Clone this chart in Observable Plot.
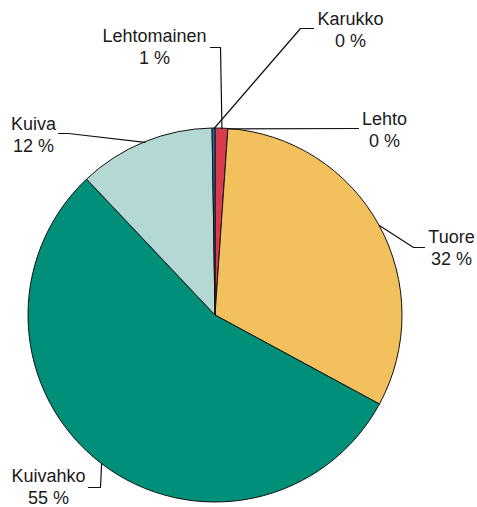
<!DOCTYPE html>
<html>
<head>
<meta charset="utf-8">
<script src="https://cdn.jsdelivr.net/npm/d3@7"></script>
<script src="https://cdn.jsdelivr.net/npm/@observablehq/plot@0.6"></script>
<style>
  html, body { margin: 0; padding: 0; background: #fff; }
  svg { display: block; }
</style>
</head>
<body>
<div id="chart"></div>
<script>
// Data
const categories = ["Lehtomainen", "Lehto", "Tuore", "Kuivahko", "Kuiva", "Karukko"];
const shares = [1.1, 0, 31.8, 55.05, 11.8, 0.25];
const colors = ["#d93a4d", "#1f6fae", "#f2c15e", "#009079", "#b4d8d4", "#1f6fae"];

// Layout (pixels)
const pieLayout = {cx: 215, cy: 315, r: 187};
const labelLayout = {
  Lehtomainen: {x: 154, y: 63, elbow: [220, 47], end: [210, 47]},
  Lehto:       {x: 384, y: 146, elbow: [300, 128], end: [358, 128]},
  Tuore:       {x: 451, y: 264, elbow: [413, 247], end: [424, 247]},
  Kuivahko:    {x: 48,  y: 503, elbow: [100, 487], end: [88, 487]},
  Kuiva:       {x: 33,  y: 151, elbow: [68, 133], end: [58, 133]},
  Karukko:     {x: 350, y: 46,  elbow: [300, 28], end: [313, 28]}
};

const data = categories.map((name, i) => ({name, value: shares[i], color: colors[i]}));
const arcs = d3.pie().sort(null).value(d => d.value).startAngle(0).endAngle(2 * Math.PI)(data);

// Leader lines from slice midpoint on the rim
const leaders = [];
arcs.forEach(a => {
  const L = labelLayout[a.data.name];
  const mid = (a.startAngle + a.endAngle) / 2;
  const ex = pieLayout.cx + pieLayout.r * Math.sin(mid);
  const ey = pieLayout.cy - pieLayout.r * Math.cos(mid);
  leaders.push({name: a.data.name, x: ex, y: ey});
  if (a.data.name !== "Lehto") leaders.push({name: a.data.name, x: L.elbow[0], y: L.elbow[1]});
  leaders.push({name: a.data.name, x: L.end[0], y: L.end[1]});
});

const labels = data.map(d => ({
  x: labelLayout[d.name].x,
  y: labelLayout[d.name].y,
  text: `${d.name}\n${Math.round(d.value)} %`
}));

const pieMark = (index, scales) => {
  const g = d3.create("svg:g");
  const cx = scales.x(pieLayout.cx), cy = scales.y(pieLayout.cy);
  const r = scales.x(pieLayout.cx + pieLayout.r) - cx;
  const arc = d3.arc().innerRadius(0).outerRadius(r);
  g.attr("transform", `translate(${cx},${cy})`);
  g.selectAll("path")
    .data(arcs.filter(a => a.data.value > 0))
    .join("path")
    .attr("d", arc)
    .attr("fill", a => a.data.color)
    .attr("stroke", "#111")
    .attr("stroke-width", 1)
    .attr("stroke-linejoin", "round");
  return g.node();
};

const chart = Plot.plot({
  width: 477,
  height: 507,
  margin: 0,
  x: {domain: [0, 477], range: [0, 477], axis: null},
  y: {domain: [0, 507], range: [0, 507], axis: null},
  style: {background: "#fff", fontFamily: "'Liberation Sans', Arial, sans-serif"},
  marks: [
    pieMark,
    Plot.line(leaders, {x: "x", y: "y", z: "name", stroke: "#111", strokeWidth: 1.2}),
    Plot.text(labels, {
      x: "x", y: "y", text: "text",
      lineAnchor: "bottom", textAnchor: "middle",
      fontSize: 18, lineHeight: 1.2, fill: "#1a1a1a",
      fontFamily: "'Liberation Sans', Arial, sans-serif"
    })
  ]
});
document.getElementById("chart").appendChild(chart);
</script>
</body>
</html>
